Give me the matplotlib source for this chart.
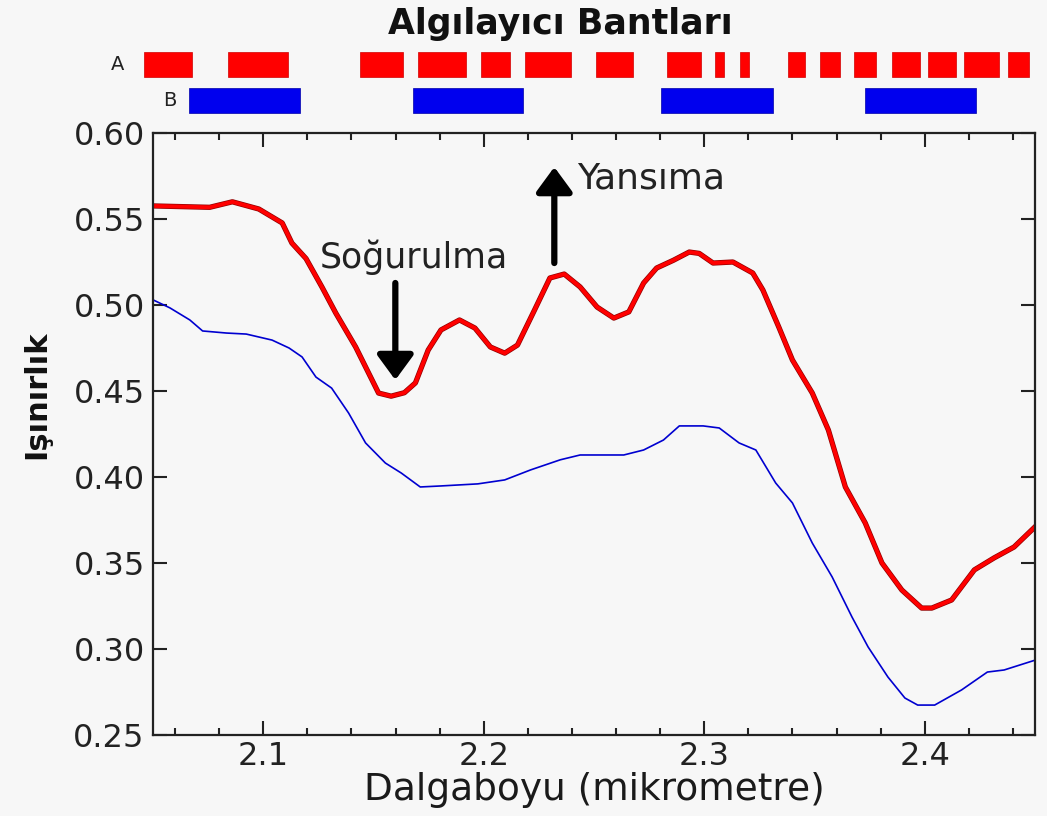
import matplotlib
matplotlib.use('Agg')
import matplotlib.pyplot as plt
import matplotlib.patheffects as pe
from matplotlib.ticker import MultipleLocator

# spectra
wl_red = [2.050, 2.0757, 2.086, 2.098, 2.1086, 2.113, 2.1194, 2.1266, 2.1329, 2.1419,
          2.1523, 2.158, 2.164, 2.169, 2.1748, 2.1806, 2.189, 2.196, 2.203, 2.2095,
          2.2153, 2.223, 2.230, 2.2365, 2.2437, 2.2514, 2.259, 2.2658, 2.2725, 2.2784,
          2.286, 2.2932, 2.2977, 2.304, 2.313, 2.322, 2.3266, 2.3338, 2.340, 2.349,
          2.3563, 2.364, 2.373, 2.3806, 2.3896, 2.3986, 2.4032, 2.4122, 2.4225, 2.4315,
          2.4405, 2.450]
rad_red = [0.5576, 0.5568, 0.560, 0.5558, 0.5477, 0.536, 0.527, 0.5105, 0.4953, 0.4756,
           0.4488, 0.447, 0.449, 0.4547, 0.4738, 0.4855, 0.4913, 0.4866, 0.4756, 0.472,
           0.4767, 0.497, 0.5157, 0.518, 0.5105, 0.4988, 0.4924, 0.496, 0.5128, 0.5215,
           0.526, 0.5308, 0.530, 0.5244, 0.525, 0.5186, 0.5087, 0.4872, 0.468, 0.4488,
           0.4273, 0.3942, 0.3733, 0.350, 0.3343, 0.3238, 0.3238, 0.3285, 0.346, 0.353,
           0.3593, 0.371]

wl_blue = [2.050, 2.0577, 2.0667, 2.0725, 2.0833, 2.0923, 2.104, 2.1117, 2.1176, 2.1239,
           2.131, 2.1387, 2.1464, 2.1554, 2.1626, 2.1712, 2.1806, 2.1973, 2.2095, 2.2212,
           2.2347, 2.2437, 2.2635, 2.2725, 2.2815, 2.2887, 2.2995, 2.3068, 2.3158, 2.3234,
           2.3324, 2.340, 2.349, 2.358, 2.367, 2.3743, 2.3833, 2.391, 2.3968, 2.4045,
           2.4167, 2.4284, 2.436, 2.450]
rad_blue = [0.503, 0.4983, 0.4913, 0.4849, 0.4837, 0.4831, 0.4796, 0.475, 0.4698, 0.4581,
            0.4517, 0.4372, 0.4198, 0.4081, 0.4023, 0.3942, 0.3948, 0.396, 0.3983, 0.4041,
            0.410, 0.4128, 0.4128, 0.4157, 0.4215, 0.4297, 0.4297, 0.4285, 0.4198, 0.4157,
            0.3965, 0.3849, 0.3616, 0.3419, 0.3186, 0.3012, 0.2837, 0.2715, 0.2674, 0.2674,
            0.2762, 0.2866, 0.2878, 0.2935]

# sensor bands (start, end in micrometre)
bands_a = [(2.0461, 2.0679), (2.0839, 2.1114), (2.144, 2.1632), (2.170, 2.192),
           (2.1988, 2.212), (2.2186, 2.2396), (2.2509, 2.2676), (2.2829, 2.2983),
           (2.3051, 2.3091), (2.3161, 2.3204), (2.3382, 2.3455), (2.3527, 2.3614),
           (2.368, 2.3778), (2.385, 2.3977), (2.4015, 2.414), (2.418, 2.4338),
           (2.4378, 2.4473)]
bands_b = [(2.0662, 2.1168), (2.168, 2.2176), (2.2806, 2.3314), (2.3727, 2.4233)]

bg = '#f7f7f7'
fs = 23
fig = plt.figure(figsize=(10.47, 8.16), dpi=100, facecolor=bg)
W, H = 1047, 816

ax = fig.add_axes([153 / W, 1 - 735 / H, (1035 - 153) / W, (735 - 133) / H], facecolor=bg)
ax.plot(wl_blue, rad_blue, color='#0000d0', lw=1.2)
ax.plot(wl_red, rad_red, color='#ff0000', lw=2.8,
        path_effects=[pe.Stroke(linewidth=3.8, foreground='#900000'), pe.Normal()])

ax.set_xlim(2.05, 2.45)
ax.set_ylim(0.25, 0.60)
ax.xaxis.set_major_locator(MultipleLocator(0.1))
ax.xaxis.set_minor_locator(MultipleLocator(0.02))
ax.yaxis.set_major_locator(MultipleLocator(0.05))
ax.yaxis.set_major_formatter(plt.FormatStrFormatter('%.2f'))
ax.xaxis.set_major_formatter(plt.FormatStrFormatter('%.1f'))
ax.tick_params(which='both', direction='in', top=True, right=True, width=1.5,
               labelsize=fs, colors='#222222')
ax.tick_params(which='major', length=10, pad=6)
ax.tick_params(axis='x', which='major', pad=4)
ax.tick_params(which='minor', length=5)
for s in ax.spines.values():
    s.set_linewidth(1.6)
    s.set_color('#222222')

ax.set_xlabel('Dalgaboyu (mikrometre)', fontsize=27, color='#1a1a1a', labelpad=0)
ax.set_ylabel('Işınırlık', fontsize=22, fontweight='bold', color='#111111')
ax.yaxis.set_label_coords(-0.115, 0.566)

# annotations
arrow = dict(arrowstyle='-|>,head_length=0.75,head_width=0.55', mutation_scale=20,
             color='black', lw=4.5, shrinkA=0, shrinkB=0)
ax.annotate('', xy=(2.1599, 0.4564), xytext=(2.1599, 0.5128), arrowprops=arrow)
ax.text(2.1685, 0.5279, 'Soğurulma', fontsize=25, ha='center', va='center', color='#222222')
ax.annotate('', xy=(2.232, 0.5802), xytext=(2.232, 0.5244), arrowprops=arrow)
ax.text(2.2423, 0.5738, 'Yansıma', fontsize=26, ha='left', va='center', color='#222222')

# band strip above the plot
axb = fig.add_axes([153 / W, 1 - 118 / H, (1035 - 153) / W, 73 / H])
axb.set_xlim(2.05, 2.45)
axb.set_ylim(1.511, -0.5625)
axb.axis('off')
axb.barh([0] * len(bands_a), [e - s for s, e in bands_a], left=[s for s, e in bands_a],
         height=0.71, color='#ff0000', edgecolor='#d00000', lw=0.5, clip_on=False)
axb.barh([1] * len(bands_b), [e - s for s, e in bands_b], left=[s for s, e in bands_b],
         height=0.71, color='#0000ee', edgecolor='#0000aa', lw=0.5, clip_on=False)
axb.text(2.0338, 0, 'A', fontsize=14, ha='center', va='center', color='#222222')
axb.text(2.0577, 1, 'B', fontsize=14, ha='center', va='center', color='#222222')

fig.text(560 / W, 1 - 24 / H, 'Algılayıcı Bantları', fontsize=25, fontweight='bold',
         ha='center', va='center', color='#111111')

fig.savefig('out.png', dpi=100, facecolor=bg)
